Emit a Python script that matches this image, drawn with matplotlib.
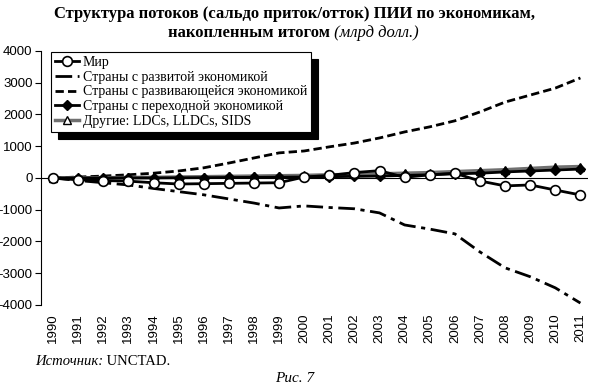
#!/usr/bin/env python3
"""
Cumulative FDI net flows (inflow/outflow balance) by economy group, 1990-2011.
"""
import matplotlib
matplotlib.use('Agg')
import matplotlib.pyplot as plt

# --- data (billion USD) ---
years = list(range(1990, 2012))

world = [0, -60, -80, -100, -150, -190, -180, -170, -160, -150,
         30, 80, 170, 230, 20, 100, 150, -95, -250, -220, -380, -535]
developed = [0, -80, -150, -220, -330, -430, -530, -660, -790, -945,
             -880, -930, -970, -1100, -1480, -1610, -1760, -2330, -2830, -3110, -3460, -3940]
developing = [0, 30, 60, 100, 150, 220, 320, 470, 630, 790,
              850, 980, 1100, 1260, 1450, 1610, 1800, 2080, 2390, 2610, 2830, 3150]
transition = [0, 0, 0, 0, 0, 5, 10, 15, 20, 25,
              30, 40, 50, 60, 80, 100, 130, 150, 190, 220, 250, 280]
others = [0, 5, 10, 15, 20, 30, 40, 50, 60, 70,
          80, 100, 110, 130, 150, 170, 200, 230, 260, 300, 340, 360]

labels = ['Мир',
          'Страны с развитой экономикой',
          'Страны с развивающейся экономикой',
          'Страны с переходной экономикой',
          'Другие: LDCs, LLDCs, SIDS']

title_1 = 'Структура потоков (сальдо приток/отток) ПИИ по экономикам,'
title_2 = 'накопленным итогом'
title_units = ' (млрд долл.)'

SERIF = 'Liberation Serif'
SANS = ['Liberation Sans Narrow', 'Liberation Sans', 'DejaVu Sans']

fig = plt.figure(figsize=(5.9, 3.92), dpi=100)
ax = fig.add_axes([0.0695, 0.222, 0.927, 0.648])

ax.axhline(0, color='black', lw=0.8, zorder=1)

ax.plot(years, others, color='#707070', lw=2.5, marker='^', ms=6,
        mfc='white', mec='black', mew=1, label=labels[4], zorder=3)
ax.plot(years, transition, color='black', lw=2, marker='D', ms=5,
        mfc='black', mec='black', label=labels[3], zorder=4)
ax.plot(years, developing, color='black', lw=2, ls=(0, (3, 1.5)),
        label=labels[2], zorder=2)
ax.plot(years, developed, color='black', lw=2, ls=(0, (6, 2, 1.5, 2)),
        label=labels[1], zorder=2)
ax.plot(years, world, color='black', lw=2, marker='o', ms=7,
        mfc='white', mec='black', mew=1.2, label=labels[0], zorder=5)

ax.set_xlim(1989.52, 2011.3)
ax.set_ylim(-4000, 4000)
ax.set_yticks(range(-4000, 4001, 1000))
ax.set_yticklabels([str(v) for v in range(-4000, 4001, 1000)],
                   family=SANS, fontsize=9.5)
ax.set_xticks(years)
ax.set_xticklabels([str(y) for y in years], rotation=90, fontsize=9.5,
                   family=SANS)

for s in ['top', 'right', 'bottom']:
    ax.spines[s].set_visible(False)
ax.spines['left'].set_linewidth(0.8)
ax.tick_params(axis='y', direction='out', length=4, width=0.8, pad=2)
ax.tick_params(axis='x', length=0, pad=6)

# legend in the original order
handles, hl = ax.get_legend_handles_labels()
order = [hl.index(l) for l in labels]
leg = ax.legend([handles[i] for i in order], [hl[i] for i in order],
                loc='upper left', bbox_to_anchor=(51 / 590, 1 - 52 / 392),
                bbox_transform=fig.transFigure, borderaxespad=0,
                prop={'family': SERIF, 'size': 10}, handlelength=1.7,
                handletextpad=0.3, labelspacing=0.12, borderpad=0.3,
                fancybox=False, edgecolor='black',
                shadow={'color': 'black', 'alpha': 1, 'ox': 5, 'oy': -5})
leg.get_frame().set_linewidth(0.8)

# title, two lines with mixed styles
fig.text(0.5, 1 - 14 / 392, title_1, ha='center', va='center',
         family=SERIF, fontsize=12, fontweight='bold')
fig.text(330 / 590, 1 - 33 / 392, title_2, ha='right', va='center',
         family=SERIF, fontsize=12, fontweight='bold')
fig.text(330 / 590, 1 - 33 / 392, title_units, ha='left', va='center',
         family=SERIF, fontsize=12, style='italic')

# source (italic label followed by plain text) and figure number
src = fig.text(35 / 590, 1 - 365 / 392, 'Источник:', ha='left',
               va='baseline', family=SERIF, fontsize=10.5, style='italic')
fig.add_artist(matplotlib.text.Annotation(
    ' UNCTAD.', xy=(1, 0), xycoords=src, va='bottom', ha='left',
    family=SERIF, fontsize=10.5))
fig.text(0.5, 1 - 378 / 392, 'Рис. 7', ha='center', va='center',
         family=SERIF, fontsize=11, style='italic')

fig.savefig('out.png', dpi=100)
